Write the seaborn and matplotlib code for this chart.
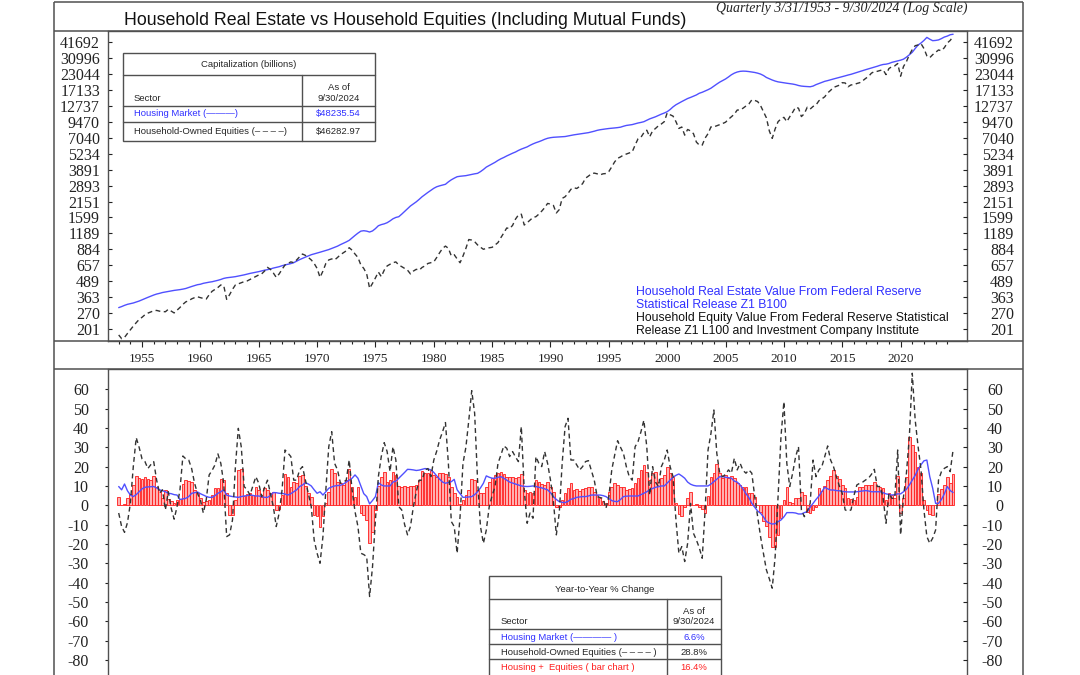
import numpy as np
import pandas as pd
import matplotlib
matplotlib.use("Agg")
import matplotlib.pyplot as plt
import seaborn as sns
from matplotlib.patches import Rectangle
from matplotlib.ticker import NullLocator

# quarterly observations 3/31/1953 .. 9/30/2024
quarters = pd.period_range("1953Q1", "2024Q3", freq="Q")

# household real estate, billions (two years per row)
housingLevel = [
    299, 305, 312, 318, 322, 326, 332, 338,
    346, 354, 362, 370, 378, 385, 390, 396,
    400, 404, 408, 412, 415, 418, 422, 427,
    435, 443, 450, 458, 462, 470, 475, 480,
    484, 490, 497, 505, 515, 521, 524, 528,
    532, 538, 543, 550, 558, 565, 571, 578,
    584, 592, 600, 606, 614, 624, 632, 640,
    652, 662, 670, 678, 690, 710, 730, 748,
    765, 782, 800, 812, 825, 838, 852, 865,
    880, 898, 918, 938, 965, 990, 1015, 1045,
    1095, 1145, 1195, 1240, 1250, 1240, 1220, 1245,
    1300, 1371, 1400, 1420, 1450, 1500, 1560, 1600,
    1622, 1700, 1790, 1880, 1980, 2060, 2140, 2240,
    2352, 2450, 2550, 2650, 2750, 2830, 2880, 2920,
    2963, 3100, 3220, 3320, 3411, 3440, 3460, 3480,
    3520, 3560, 3600, 3632, 3750, 3900, 4080, 4200,
    4320, 4460, 4620, 4760, 4880, 5020, 5150, 5280,
    5400, 5560, 5700, 5820, 5940, 6120, 6280, 6420,
    6540, 6680, 6840, 6970, 7050, 7100, 7130, 7150,
    7170, 7200, 7280, 7360, 7430, 7490, 7560, 7620,
    7680, 7740, 7840, 7950, 8080, 8170, 8240, 8300,
    8360, 8400, 8450, 8500, 8570, 8720, 8850, 8920,
    8990, 9120, 9260, 9360, 9490, 9740, 10000, 10200,
    10400, 10660, 10920, 11150, 11430, 11900, 12500, 13000,
    13400, 13800, 14200, 14600, 14900, 15250, 15600, 16100,
    16400, 16800, 17200, 17690, 18400, 19100, 19800, 20400,
    21000, 21800, 22700, 23400, 23900, 24200, 24300, 24250,
    24100, 23900, 23700, 23400, 23000, 22400, 21600, 21100,
    20600, 20200, 19900, 19720, 19550, 19400, 19250, 19110,
    18900, 18600, 18400, 18300, 18250, 18170, 18400, 18900,
    19300, 19700, 20100, 20370, 20700, 21000, 21300, 21600,
    21900, 22250, 22600, 22900, 23300, 23700, 24100, 24500,
    24950, 25350, 25800, 26200, 26600, 27100, 27500, 27650,
    28000, 28600, 29000, 29400, 29800, 30360, 31500, 32920,
    34500, 37000, 39500, 41000, 43000, 45500, 44000, 42800,
    43000, 43400, 44500, 45800, 46600, 47800, 48235.54,
]

# household-owned equities incl. mutual funds, billions
equityLevel = [
    180, 168, 172, 185, 198, 212, 226, 240,
    250, 262, 270, 276, 282, 284, 280, 278,
    277, 290, 280, 271, 285, 300, 318, 333,
    340, 352, 360, 366, 360, 355, 351, 380,
    405, 420, 435, 456, 450, 349, 380, 420,
    456, 465, 475, 485, 491, 505, 520, 535,
    549, 560, 590, 632, 610, 570, 525, 560,
    610, 661, 680, 700, 690, 726, 770, 810,
    790, 760, 726, 680, 620, 525, 590, 680,
    726, 740, 726, 760, 800, 830, 860, 911,
    870, 810, 760, 661, 620, 560, 428, 470,
    520, 580, 532, 600, 649, 670, 689, 700,
    660, 641, 620, 600, 560, 590, 610, 600,
    632, 650, 680, 690, 700, 760, 830, 900,
    939, 901, 783, 800, 740, 689, 780, 900,
    1061, 1050, 1020, 960, 920, 885, 900, 910,
    918, 960, 1002, 1100, 1200, 1315, 1300, 1380,
    1550, 1675, 1700, 1389, 1450, 1524, 1600, 1622,
    1700, 1800, 1917, 2076, 2050, 2000, 1739, 1850,
    2282, 2350, 2500, 2700, 2783, 2740, 2850, 3000,
    3317, 3450, 3600, 3648, 3600, 3530, 3600, 3620,
    3760, 4100, 4500, 4800, 4930, 5100, 5200, 5300,
    5410, 6140, 6900, 7100, 7730, 8100, 7170, 8000,
    8370, 8800, 9100, 9490, 11180, 10800, 10530, 9500,
    8370, 8600, 7390, 8210, 8000, 7600, 6500, 6140,
    6140, 7000, 7600, 8620, 8620, 8800, 9000, 9170,
    9400, 9920, 10400, 10900, 11790, 11800, 12200, 12710,
    13200, 14240, 14100, 13800, 12800, 11440, 10200, 8000,
    6960, 8300, 9490, 10000, 10290, 9490, 10400, 11300,
    12420, 12200, 10440, 11000, 12420, 12000, 12600, 12940,
    14000, 14500, 15080, 16200, 17000, 17940, 18300, 18700,
    19600, 19500, 18170, 18800, 18900, 19300, 19600, 20300,
    21200, 22000, 23400, 24100, 24200, 24600, 24880, 22770,
    25500, 26400, 26800, 28000, 22100, 26500, 29000, 32900,
    36300, 39000, 39500, 40500, 37000, 32300, 31200, 33000,
    34500, 36000, 35500, 37600, 41000, 43000, 46282.97,
]

# year-to-year % change, housing market (blue line)
housingYoy = [
    9.7, 8.0, 11.0, 7.5, 5.3, 4.5, 5.5, 7.0,
    8.5, 9.3, 9.5, 9.6, 9.7, 9.0, 8.0, 7.5,
    7.0, 6.2, 6.0, 5.5, 5.3, 3.0, 3.3, 3.6,
    4.5, 6.2, 6.5, 6.9, 6.0, 5.3, 4.6, 4.1,
    4.1, 5.0, 6.2, 7.0, 8.0, 5.3, 4.8, 4.5,
    4.3, 4.1, 4.5, 4.8, 5.0, 5.3, 5.1, 4.8,
    4.8, 4.5, 4.1, 4.1, 5.0, 6.6, 6.5, 6.2,
    6.2, 5.8, 5.3, 6.0, 7.0, 8.0, 9.7, 10.5,
    11.7, 11.0, 10.0, 8.0, 6.2, 7.0, 5.3, 7.0,
    8.8, 9.5, 10.0, 10.2, 10.3, 11.0, 12.0, 13.0,
    14.0, 15.7, 14.0, 10.0, 6.0, 4.5, 0.7, 2.5,
    4.5, 11.7, 10.5, 10.0, 10.0, 10.0, 12.0, 12.5,
    14.0, 15.5, 17.0, 18.6, 18.5, 18.3, 18.0, 18.2,
    18.6, 19.0, 18.8, 18.3, 17.0, 15.2, 13.5, 12.0,
    11.4, 11.8, 12.2, 13.4, 8.0, 6.0, 4.1, 4.2,
    4.3, 4.5, 5.5, 7.0, 9.0, 11.4, 15.2, 14.5,
    14.0, 14.0, 14.5, 14.8, 14.0, 13.0, 12.0, 11.5,
    11.0, 10.5, 10.0, 9.8, 9.7, 9.8, 10.0, 9.7,
    9.3, 9.0, 8.5, 8.0, 6.5, 4.5, 3.0, 1.9,
    1.5, 1.4, 2.0, 3.1, 3.5, 4.1, 4.3, 4.5,
    4.5, 4.8, 5.3, 5.3, 5.3, 5.3, 5.0, 4.5,
    3.5, 2.4, 2.0, 1.9, 3.0, 4.5, 4.7, 4.8,
    4.8, 4.8, 4.8, 5.5, 6.2, 7.0, 8.0, 8.7,
    9.3, 9.6, 10.0, 10.0, 11.5, 13.0, 14.5, 15.5,
    16.2, 15.2, 14.0, 12.0, 10.9, 10.3, 10.0, 10.0,
    10.0, 10.0, 10.0, 11.0, 12.2, 13.5, 14.8, 14.8,
    14.5, 14.3, 14.0, 12.5, 12.0, 10.5, 8.5, 6.0,
    4.0, 1.0, -1.0, -3.0, -4.1, -6.0, -8.4, -9.2,
    -9.7, -9.5, -8.5, -7.6, -6.0, -3.8, -3.8, -3.8,
    -4.0, -4.5, -4.5, -3.8, -3.3, -1.0, 1.0, 3.0,
    4.8, 7.0, 9.3, 8.5, 7.9, 7.9, 7.6, 7.5,
    7.2, 7.0, 6.9, 6.9, 6.9, 7.0, 7.2, 7.4,
    7.6, 7.4, 7.0, 7.0, 7.0, 7.0, 6.5, 5.9,
    5.6, 5.3, 5.5, 5.9, 5.9, 7.0, 8.3, 10.5,
    13.0, 15.5, 18.6, 21.0, 23.0, 23.4, 14.8, 8.8,
    1.0, 1.0, 3.0, 5.9, 9.7, 7.6, 6.6,
]

# year-to-year % change, household-owned equities (dashed line)
equityYoy = [
    -4, -11, -14, -9, 1, 20, 35, 30,
    24, 22.6, 19, 21, 22.6, 13, 6.2, 8,
    -2.4, 7, -1.6, -7.2, -0.7, 8, 25.5, 24,
    23.4, 19, 11.4, 6.2, 2.8, -4, 2.8, 15.7,
    18, 20.9, 26.6, 21.7, 11.4, -16.2, -15.3, -7.6,
    20, 39.8, 30.3, 9.7, 8, 5.3, 10, 14.8,
    11.4, 4.5, 9.3, 13, 6.2, -0.7, -11, -4,
    8, 28.6, 27, 25.2, 13, 13, 18.3, 20,
    13, 6, -0.7, -18, -24.8, -30, -16.2, 8,
    30.3, 38.1, 21.7, 18.3, 11.4, 12, 13, 23.4,
    8, -3.3, -11, -24.8, -25.5, -26.6, -47.2, -31.7,
    -7.6, 14.8, 25.2, 32.4, 27.8, 17.4, 30.3, 23.4,
    -0.7, -2.4, -10, -15.3, -11, -0.7, 7, 13,
    13, 18.3, 19, 14.8, 23.4, 28, 33.8, 38,
    42.8, 21.7, -8.4, -11, -24.8, -5.9, 21.7, 30,
    44, 59.3, 47.6, 13, -11, -19.7, -12.8, -0.7,
    5, 9.7, 21.7, 26, 30.7, 29.5, 25.2, 27.8,
    25, 22.6, 40.7, 8, -9.3, -4, -6.7, 25.2,
    21.7, 20, 27.8, 21.7, 13, 2, -15.3, -4,
    21.7, 40.7, 45, 23.4, 23.4, 20.9, 18.3, 20,
    22.6, 23.1, 18, 13, 4.5, 4, 3.6, -1.6,
    4.5, 18.3, 26, 33.4, 30, 26.9, 20, 14.8,
    13, 30.3, 32.9, 38, 44, 30.3, 5.3, 20,
    12, 9.7, 20, 23.4, 28.6, 20, 14.8, -7.6,
    -24.8, -21.4, -29.1, -19.7, 1, -14.5, -17.9, -22,
    -27.4, -2.4, 28.6, 37.2, 49.3, 26.9, 16.6, 14.8,
    16, 18.3, 16.6, 24.3, 18.3, 21.7, 18, 16.6,
    18.3, 16.6, 4.5, -5.9, -16.2, -25, -33.4, -38,
    -42.9, -26.6, 4.5, 35.5, 53.6, 21.7, 9.7, 16.6,
    25, 30.3, -2.4, -5.9, -3, 1, 23.4, 14.8,
    18.3, 20, 25.2, 30.7, 23.4, 20, 14.8, 10,
    6.2, -2.4, -3, -2.4, 5, 10.5, 11.4, 12,
    13.1, 14, 16, 18.6, 9.7, 9.7, 4, -9.3,
    6.2, 3.6, 3.6, 28.6, -15.3, 4.5, 16.6, 35.5,
    68.3, 44.1, 30.3, 18.3, -2.4, -16.2, -19.7, -17,
    -12.8, 13.1, 17.4, 19.1, 20, 17.4, 28.8,
]

# year-to-year % change, housing + equities (bars)
combinedYoy = [
    4.1, 0.0, 0.5, 3.6, 5.7, 10.3, 15.2, 14.0,
    13.4, 14.8, 13.4, 13.1, 15.2, 9.7, 7.9, 3.6,
    7.9, 3.1, 2.4, 1.0, 2.8, 3.1, 10.9, 13.1,
    12.6, 12.2, 7.9, 6.2, 3.6, 1.9, 2.0, 2.8,
    5.3, 8.8, 8.8, 13.4, 13.1, 6.2, -5.0, -5.0,
    2.8, 18.3, 18.6, 4.8, 5.9, 6.2, 5.3, 9.7,
    7.9, 4.5, 8.8, 7.9, 6.6, 7.1, -2.4, -2.1,
    5.3, 16.2, 14.8, 9.7, 12.2, 11.4, 15.2, 15.7,
    10.0, 6.2, 4.1, -5.0, -5.5, -11.0, -5.5, 1.4,
    7.1, 18.6, 16.6, 12.2, 11.4, 10.5, 13.1, 18.6,
    9.7, 4.5, 9.7, -4.1, -5.0, -7.6, -19.7, -13.6,
    -2.4, 10.0, 14.8, 17.4, 12.0, 13.0, 17.0, 15.7,
    10.0, 9.7, 10.0, 9.3, 10.0, 10.2, 10.5, 13.1,
    17.9, 16.9, 16.6, 18.3, 15.7, 14.8, 16.6, 16.9,
    16.0, 14.5, 9.7, 6.2, 4.5, 0.7, 2.8, 5.3,
    7.9, 13.4, 13.1, 7.9, 6.2, 6.6, 9.7, 12.2,
    14.0, 15.7, 16.6, 17.4, 16.2, 14.5, 14.5, 14.8,
    14.0, 14.8, 16.2, 7.9, 6.2, 7.1, 6.2, 13.1,
    12.2, 11.0, 10.5, 12.2, 9.7, 7.1, -0.7, -1.0,
    2.8, 6.2, 8.8, 11.4, 7.9, 8.3, 7.6, 8.3,
    8.8, 9.7, 9.3, 7.1, 5.3, 3.6, 2.4, 1.4,
    7.1, 9.7, 11.4, 10.5, 9.7, 9.3, 7.9, 8.2,
    8.8, 11.4, 14.0, 18.3, 20.9, 17.4, 13.1, 16.6,
    17.4, 12.2, 14.0, 15.7, 19.7, 16.6, 14.8, 1.4,
    -4.5, -5.5, -0.7, 3.6, 7.1, 0.2, 0.7, -0.7,
    -2.1, -3.8, 4.8, 14.8, 16.9, 21.4, 16.9, 14.0,
    15.7, 14.0, 15.2, 14.0, 11.4, 10.5, 9.7, 9.3,
    6.2, 6.2, 4.1, 0.2, -3.3, -7.9, -10.7, -16.2,
    -21.4, -21.4, -15.3, -6.7, 2.8, 9.7, 1.9, 1.0,
    3.6, 4.0, 7.1, 5.5, -3.3, -4.1, -2.4, -1.0,
    8.8, 7.6, 10.0, 13.1, 15.2, 18.3, 15.2, 13.4,
    10.5, 8.8, 3.6, 3.1, 2.8, 4.5, 9.3, 9.7,
    10.5, 10.5, 10.5, 12.2, 10.0, 9.7, 8.8, 2.8,
    6.2, 5.3, 3.6, 15.2, -4.1, 3.6, 14.8, 35.5,
    31.2, 27.8, 20.0, 16.6, 2.8, -2.4, -4.5, -5.0,
    0.2, 5.9, 8.3, 10.5, 14.5, 11.4, 16.4,
]

capTicks = [201, 270, 363, 489, 657, 884, 1189, 1599, 2151, 2893, 3891,
            5234, 7040, 9470, 12737, 17133, 23044, 30996, 41692]
pctTicks = [-80, -70, -60, -50, -40, -30, -20, -10, 0, 10, 20, 30, 40, 50, 60]
yearTicks = list(range(1955, 2021, 5))
minorYears = list(range(1953, 2025))

for name, series in [("housingLevel", housingLevel), ("equityLevel", equityLevel),
                     ("housingYoy", housingYoy), ("equityYoy", equityYoy),
                     ("combinedYoy", combinedYoy)]:
    assert len(series) == len(quarters), (name, len(series))

# the Q1 observation of each year sits on that year's tick
xq = np.asarray(quarters.year + (quarters.quarter - 1) / 4.0, dtype=float)

blueLine = "#5050ff"
blueText = "#3030ff"
darkLine = "#333333"
redText = "#ff2020"
frameColor = "#505050"
serif = "Liberation Serif"

sns.set_theme(style="white")
plt.rcParams["font.family"] = ["Liberation Sans", "DejaVu Sans"]

W, H = 1080, 675
fig = plt.figure(figsize=(W / 100, H / 100), dpi=100)


def figBox(left, top, right, bottom):
    return [left / W, 1 - bottom / H, (right - left) / W, (bottom - top) / H]


xLimits = (1952.04, 2025.69)

# ---------- top panel: levels on a log scale ----------
axTop = fig.add_axes(figBox(107.5, 31, 967, 340.7))
sns.lineplot(x=xq, y=housingLevel, ax=axTop, color=blueLine, linewidth=1.0,
             estimator=None, errorbar=None)
sns.lineplot(x=xq, y=equityLevel, ax=axTop, color=darkLine, linewidth=1.0,
             linestyle=(0, (3.5, 2.5)), estimator=None, errorbar=None)
axTop.set_yscale("log")
topLimits = (161.7, 51240)
axTop.set_ylim(*topLimits)
axTop.set_xlim(*xLimits)
axTop.set_xlabel("")
axTop.set_ylabel("")
axTop.set_yticks(capTicks, labels=[str(v) for v in capTicks],
                 fontfamily=serif, fontsize=11.5)
axTop.yaxis.set_minor_locator(NullLocator())
axTop.tick_params(axis="y", left=True, direction="in", length=3, width=0.8,
                  pad=5.4, colors="#222222")
axTop.set_xticks(yearTicks, labels=[str(y) for y in yearTicks],
                 fontfamily=serif, fontsize=9.5)
axTop.set_xticks(minorYears, minor=True)
axTop.tick_params(axis="x", which="major", bottom=True, direction="out",
                  length=4, width=0.8, pad=5, colors="#222222")
axTop.tick_params(axis="x", which="minor", bottom=True, direction="out",
                  length=2.3, width=0.8, colors="#222222")
for spine in axTop.spines.values():
    spine.set_color(frameColor)
    spine.set_linewidth(1.0)

axTopR = axTop.twinx()
axTopR.set_yscale("log")
axTopR.set_ylim(*topLimits)
axTopR.set_yticks(capTicks, labels=[str(v) for v in capTicks], ha="right",
                  fontfamily=serif, fontsize=11.5)
axTopR.yaxis.set_minor_locator(NullLocator())
axTopR.tick_params(axis="y", right=True, direction="in", length=3, width=0.8,
                   pad=33.8, colors="#222222")
for spine in axTopR.spines.values():
    spine.set_visible(False)

# ---------- bottom panel: year-to-year % change ----------
axBot = fig.add_axes(figBox(107.5, 369, 967, 675))
sns.barplot(x=xq, y=combinedYoy, ax=axBot, native_scale=True, width=0.9,
            color="#ffb0b0", saturation=1, edgecolor="#ff1a1a", linewidth=0.6,
            errorbar=None, zorder=1)
sns.lineplot(x=xq, y=housingYoy, ax=axBot, color=blueLine, linewidth=1.0,
             estimator=None, errorbar=None, zorder=3)
sns.lineplot(x=xq, y=equityYoy, ax=axBot, color=darkLine, linewidth=1.0,
             linestyle=(0, (3.5, 2.5)), estimator=None, errorbar=None, zorder=4)
botLimits = (-87.8, 70.5)
axBot.set_xlim(*xLimits)
axBot.set_ylim(*botLimits)
axBot.set_xlabel("")
axBot.set_ylabel("")
axBot.set_xticks([])
axBot.set_yticks(pctTicks, labels=[str(v) for v in pctTicks],
                 fontfamily=serif, fontsize=11.5)
axBot.tick_params(axis="y", left=True, direction="out", length=2.3, width=0.8,
                  pad=11.2, colors="#222222")
for spine in axBot.spines.values():
    spine.set_color(frameColor)
    spine.set_linewidth(1.0)
axBot.spines["bottom"].set_visible(False)

axBotR = axBot.twinx()
axBotR.set_ylim(*botLimits)
axBotR.set_yticks(pctTicks, labels=[str(v) for v in pctTicks], ha="right",
                  fontfamily=serif, fontsize=11.5)
axBotR.tick_params(axis="y", right=True, direction="in", length=3, width=0.8,
                   pad=25.9, colors="#222222")
for spine in axBotR.spines.values():
    spine.set_visible(False)

# ---------- frame, titles, tables and notes (pixel coordinates) ----------
ov = fig.add_axes([0, 0, 1, 1], zorder=10)
ov.set_xlim(0, W)
ov.set_ylim(H, 0)
ov.axis("off")
ov.patch.set_alpha(0)

frameKw = dict(color=frameColor, linewidth=1.1, solid_capstyle="butt")
ov.plot([54, 1023], [2, 2], **frameKw)
ov.plot([54, 54], [2, H + 5], **frameKw)
ov.plot([1023, 1023], [2, H + 5], **frameKw)
for yLine in (31, 340.7, 369):
    ov.plot([54, 1023], [yLine, yLine], **frameKw)

ov.text(123.5, 20.5, "Household Real Estate vs Household Equities (Including Mutual Funds)",
        fontsize=12.8, ha="left", va="center", color="#111111")
ov.text(842, 8.5, "Quarterly 3/31/1953 - 9/30/2024 (Log Scale)", fontsize=10,
        fontfamily=serif, style="italic", ha="center", va="center", color="#222222")

tableKw = dict(color=frameColor, linewidth=1.0)
small = 6.8

# capitalization table
ov.add_patch(Rectangle((122.5, 52.6), 375.4 - 122.5, 141.2 - 52.6,
                       facecolor="white", edgecolor=frameColor, linewidth=1.0))
for yLine in (75, 105.5, 121.8):
    ov.plot([122.5, 375.4], [yLine, yLine], **tableKw)
ov.plot([301.7, 301.7], [75, 141.2], **tableKw)
ov.text(249, 64.5, "Capitalization (billions)", fontsize=small, ha="center", va="center")
ov.text(133.6, 98.5, "Sector", fontsize=small, ha="left", va="center")
ov.text(338.6, 87.5, "As of", fontsize=small, ha="center", va="center")
ov.text(338.6, 98.8, "9/30/2024", fontsize=small, ha="center", va="center")
ov.text(133.6, 113.8, "Housing Market (\u2014\u2014\u2014)", fontsize=small,
        ha="left", va="center", color=blueText)
ov.text(338.6, 113.8, "$48235.54", fontsize=small, ha="center", va="center", color=blueText)
ov.text(133.6, 131.5, "Household-Owned Equities (\u2013 \u2013 \u2013 \u2013)", fontsize=small,
        ha="left", va="center")
ov.text(338.6, 131.5, "$46282.97", fontsize=small, ha="center", va="center")

# source notes
notes = [("Household Real Estate Value From Federal Reserve", blueText),
         ("Statistical Release Z1 B100", blueText),
         ("Household Equity Value From Federal Reserve Statistical", "#111111"),
         ("Release Z1 L100 and Investment Company Institute", "#111111")]
for (line, col), yText in zip(notes, (291.7, 304.5, 317.7, 331)):
    ov.text(636, yText, line, fontsize=8.8, ha="left", va="center", color=col)

# year-to-year table
ov.add_patch(Rectangle((489, 576), 720.7 - 489, 120,
                       facecolor="white", edgecolor=frameColor, linewidth=1.0))
for yLine in (599.3, 629.3, 644, 659.3):
    ov.plot([489, 720.7], [yLine, yLine], **tableKw)
ov.plot([667.3, 667.3], [599.3, 690], **tableKw)
ov.text(605, 589.3, "Year-to-Year % Change", fontsize=small, ha="center", va="center")
ov.text(500.7, 621.5, "Sector", fontsize=small, ha="left", va="center")
ov.text(694, 611.5, "As of", fontsize=small, ha="center", va="center")
ov.text(694, 621.7, "9/30/2024", fontsize=small, ha="center", va="center")
ov.text(500.7, 637, "Housing Market (\u2014\u2014\u2014\u2014 )", fontsize=small,
        ha="left", va="center", color=blueText)
ov.text(694, 637, "6.6%", fontsize=small, ha="center", va="center", color=blueText)
ov.text(500.7, 652.2, "Household-Owned Equities (\u2013 \u2013 \u2013 \u2013 )", fontsize=small,
        ha="left", va="center")
ov.text(694, 652.2, "28.8%", fontsize=small, ha="center", va="center")
ov.text(500.7, 668, "Housing +  Equities ( bar chart )", fontsize=small,
        ha="left", va="center", color=redText)
ov.text(694, 668, "16.4%", fontsize=small, ha="center", va="center", color=redText)

fig.savefig("out.png", dpi=100)
plt.close(fig)
